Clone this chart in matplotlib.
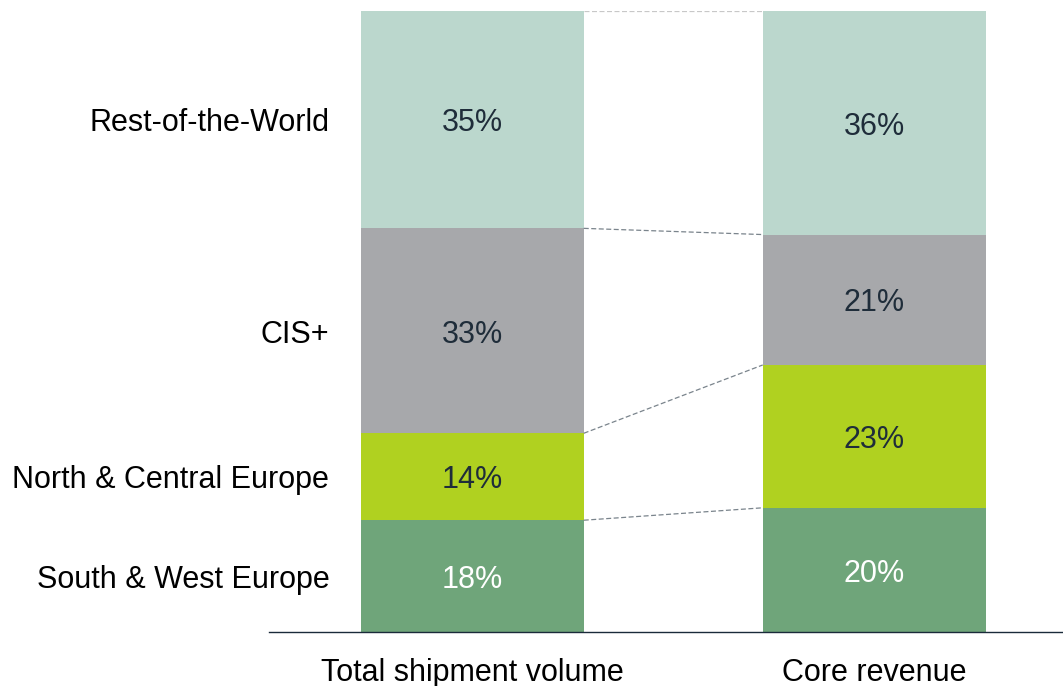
import numpy as np
import matplotlib.pyplot as plt

plt.rcParams['font.family'] = ['Liberation Sans', 'DejaVu Sans']

# Données
bars = ["Total shipment volume", "Core revenue"]
regions = ["South & West Europe", "North & Central Europe", "CIS+", "Rest-of-the-World"]
volume = [18, 14, 33, 35]
revenue = [20, 23, 21, 36]
colors = ["#6fa57a", "#b0d120", "#a7a8ab", "#bbd7cd"]
text_colors = ["white", "#1f2d3a", "#1f2d3a", "#1f2d3a"]

fig = plt.figure(figsize=(10.63, 6.86), dpi=100)
ax = fig.add_axes([269 / 1063, 54 / 686, 794 / 1063, 621 / 686])

width = 0.555
x = np.arange(len(bars))
data = np.array([volume, revenue])  # filas: barras, columnas: regiones
dy = 0.6  # pequeño ajuste vertical del texto

bottoms = np.zeros(len(bars))
for j, region in enumerate(regions):
    vals = data[:, j]
    ax.bar(x, vals, width, bottom=bottoms, color=colors[j], linewidth=0)
    for i in range(len(bars)):
        ax.text(x[i], bottoms[i] + vals[i] / 2 - dy, f"{vals[i]}%", ha='center', va='center',
                fontsize=22, color=text_colors[j])
    # etiqueta de región a la izquierda
    ax.text(-0.355, bottoms[0] + vals[0] / 2 - dy, region, ha='right', va='center',
            fontsize=22, color='black')
    bottoms = bottoms + vals

# Líneas de conexión entre barras
cum = np.cumsum(data, axis=1)
for j in range(len(regions)):
    col = '#c8c8c8' if j == len(regions) - 1 else '#7a848c'
    ax.plot([x[0] + width / 2, x[1] - width / 2], [cum[0, j], cum[1, j]],
            linestyle=(0, (4, 2)), color=col, linewidth=0.9)

ax.set_xlim(-0.505, 1.469)
ax.set_ylim(0, 100)
ax.set_xticks(x)
ax.set_xticklabels(bars, fontsize=22)
ax.tick_params(axis='x', length=0, pad=18.5)
ax.set_yticks([])
for s in ['top', 'right', 'left']:
    ax.spines[s].set_visible(False)
ax.spines['bottom'].set_color('#1a2a3a')
ax.spines['bottom'].set_linewidth(1)

fig.savefig('out.png', dpi=100)
